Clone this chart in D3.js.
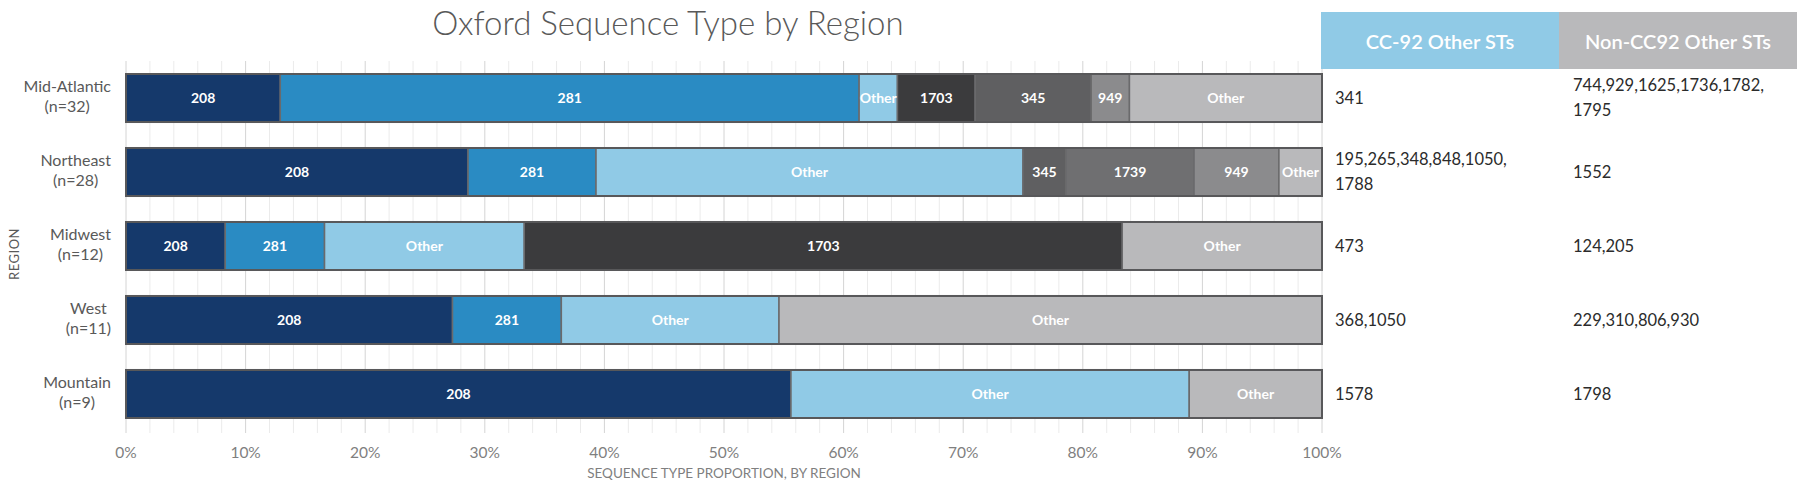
<!DOCTYPE html>
<html>
<head>
<meta charset="utf-8">
<script src="https://cdn.jsdelivr.net/npm/d3@7"></script>
<style>
body { margin: 0; background: #fff; }
svg text { font-family: Lato, "Open Sans", sans-serif; }
</style>
</head>
<body>
<div id="chart"></div>
<script>
var width = 1800,
	height = 489;

var regions = ["Mid-Atlantic", "Northeast", "Midwest", "West", "Mountain"];
var regionCounts = ["(n=32)", "(n=28)", "(n=12)", "(n=11)", "(n=9)"];

// sequence type of each segment, left to right
var segmentTypes = [
	["208", "281", "CC-92 Other", "1703", "345", "949", "Non-CC92 Other"],
	["208", "281", "CC-92 Other", "345", "1739", "949", "Non-CC92 Other"],
	["208", "281", "CC-92 Other", "1703", "Non-CC92 Other"],
	["208", "281", "CC-92 Other", "Non-CC92 Other"],
	["208", "CC-92 Other", "Non-CC92 Other"]
];
// share of the region in percent, same order
var segmentValues = [
	[12.9, 48.4, 3.2, 6.5, 9.7, 3.2, 16.1],
	[28.6, 10.7, 35.7, 3.6, 10.7, 7.1, 3.6],
	[8.3, 8.3, 16.7, 50.0, 16.7],
	[27.3, 9.1, 18.2, 45.4],
	[55.6, 33.3, 11.1]
];

var stTypes = ["208", "281", "CC-92 Other", "1703", "345", "1739", "949", "Non-CC92 Other"];
var stColors = ["#15396b", "#2a8bc3", "#90cae6", "#3b3b3d", "#5f5f61", "#6f6f71", "#8b8b8d", "#b9b9bb"];

var xTicks = [0, 10, 20, 30, 40, 50, 60, 70, 80, 90, 100];

var tableHeaders = ["CC-92 Other STs", "Non-CC92 Other STs"];
var cc92Other = [["341"], ["195,265,348,848,1050,", "1788"], ["473"], ["368,1050"], ["1578"]];
var nonCc92Other = [["744,929,1625,1736,1782,", "1795"], ["1552"], ["124,205"], ["229,310,806,930"], ["1798"]];

var svg = d3.select("#chart")
	.append("svg")
	.attr("width", width)
	.attr("height", height);

var x = d3.scaleLinear().domain([0, 100]).range([126, 1322]);
var y = d3.scaleBand().domain(regions).range([61, 431])
	.paddingInner(0.351)
	.paddingOuter(0.1757);
var color = d3.scaleOrdinal().domain(stTypes).range(stColors);

// title
svg.append("text")
	.attr("x", 668)
	.attr("y", 35)
	.attr("text-anchor", "middle")
	.attr("font-size", "33px")
	.attr("font-weight", 300)
	.attr("fill", "#595959")
	.text("Oxford Sequence Type by Region");

// gridlines, minor every 2% and major every 10%
svg.append("g")
	.selectAll("line")
	.data(x.ticks(50))
	.enter()
	.append("line")
	.attr("x1", function(d) { return x(d); })
	.attr("x2", function(d) { return x(d); })
	.attr("y1", 61)
	.attr("y2", 433)
	.attr("stroke", function(d) { return d % 10 == 0 ? "#d4d4d4" : "#ebebeb"; })
	.attr("stroke-width", 1);

// stacked bars
var rows = svg.selectAll(".row")
	.data(regions)
	.enter()
	.append("g")
	.attr("class", "row")
	.attr("transform", function(d) { return "translate(0," + y(d) + ")"; });

rows.each(function(region, i) {
	var ends = d3.cumsum(segmentValues[i]);
	var segs = segmentValues[i].map(function(v, j) {
		return { type: segmentTypes[i][j], start: ends[j] - v, end: ends[j] };
	});

	var g = d3.select(this);
	g.selectAll("rect")
		.data(segs)
		.enter()
		.append("rect")
		.attr("x", function(d) { return x(d.start); })
		.attr("y", 0)
		.attr("width", function(d) { return x(d.end) - x(d.start); })
		.attr("height", y.bandwidth())
		.attr("fill", function(d) { return color(d.type); })
		.attr("stroke", "#6a6a6c")
		.attr("stroke-width", 1.5);

	// darker outline round the whole bar
	g.append("rect")
		.attr("x", x(0))
		.attr("y", 0)
		.attr("width", x(ends[ends.length - 1]) - x(0))
		.attr("height", y.bandwidth())
		.attr("fill", "none")
		.attr("stroke", "#58585a")
		.attr("stroke-width", 2);

	g.selectAll("text")
		.data(segs)
		.enter()
		.append("text")
		.attr("x", function(d) { return (x(d.start) + x(d.end)) / 2; })
		.attr("y", y.bandwidth() / 2)
		.attr("dy", ".35em")
		.attr("text-anchor", "middle")
		.attr("font-size", "14px")
		.attr("font-weight", "bold")
		.attr("fill", "#fff")
		.text(function(d) { return d.type.indexOf("Other") >= 0 ? "Other" : d.type; });
});

// region labels, two lines centred on each other and right aligned
rows.each(function(region, i) {
	var g = d3.select(this);
	var lab = g.append("text")
		.attr("font-size", "16px")
		.attr("fill", "#595959")
		.attr("text-anchor", "middle");
	var l1 = lab.append("tspan").attr("y", y.bandwidth() / 2 - 6).text(region);
	var l2 = lab.append("tspan").attr("y", y.bandwidth() / 2 + 14).text(regionCounts[i]);
	var w = Math.max(l1.node().getComputedTextLength(), l2.node().getComputedTextLength());
	l1.attr("x", 111 - w / 2);
	l2.attr("x", 111 - w / 2);
});

svg.append("text")
	.attr("transform", "translate(14,254) rotate(-90)")
	.attr("text-anchor", "middle")
	.attr("dy", ".35em")
	.attr("font-size", "13px")
	.attr("letter-spacing", "0.5px")
	.attr("fill", "#595959")
	.text("REGION");

// x axis
svg.append("g")
	.selectAll("text")
	.data(xTicks)
	.enter()
	.append("text")
	.attr("x", function(d) { return x(d); })
	.attr("y", 453)
	.attr("dy", ".35em")
	.attr("text-anchor", "middle")
	.attr("font-size", "15.5px")
	.attr("fill", "#7f7f7f")
	.text(function(d) { return d + "%"; });

svg.append("text")
	.attr("x", (x(0) + x(100)) / 2)
	.attr("y", 473)
	.attr("dy", ".35em")
	.attr("text-anchor", "middle")
	.attr("font-size", "13.5px")
	.attr("fill", "#7f7f7f")
	.text("SEQUENCE TYPE PROPORTION, BY REGION");

// table of the other sequence types
var colLeft = [x(100) - 1, x(100) + 237];
var colWidth = 238;

svg.selectAll(".head")
	.data(tableHeaders)
	.enter()
	.append("rect")
	.attr("class", "head")
	.attr("x", function(d, i) { return colLeft[i]; })
	.attr("y", 12)
	.attr("width", colWidth)
	.attr("height", 57)
	.attr("fill", function(d, i) { return i == 0 ? color("CC-92 Other") : color("Non-CC92 Other"); });

svg.selectAll(".headText")
	.data(tableHeaders)
	.enter()
	.append("text")
	.attr("class", "headText")
	.attr("x", function(d, i) { return colLeft[i] + colWidth / 2; })
	.attr("y", 42)
	.attr("dy", ".35em")
	.attr("text-anchor", "middle")
	.attr("font-size", "20px")
	.attr("font-weight", 600)
	.attr("fill", "#fff")
	.text(function(d) { return d; });

[cc92Other, nonCc92Other].forEach(function(col, c) {
	svg.append("g")
		.selectAll("text")
		.data(col)
		.enter()
		.append("text")
		.attr("font-size", "16.5px")
		.attr("fill", "#2b2b2b")
		.each(function(lines, i) {
			var mid = y(regions[i]) + y.bandwidth() / 2;
			var t = d3.select(this);
			lines.forEach(function(line, k) {
				t.append("tspan")
					.attr("x", colLeft[c] + 14)
					.attr("y", mid + (k - (lines.length - 1) / 2) * 25)
					.attr("dy", ".35em")
					.text(line);
			});
		});
});
</script>
</body>
</html>
